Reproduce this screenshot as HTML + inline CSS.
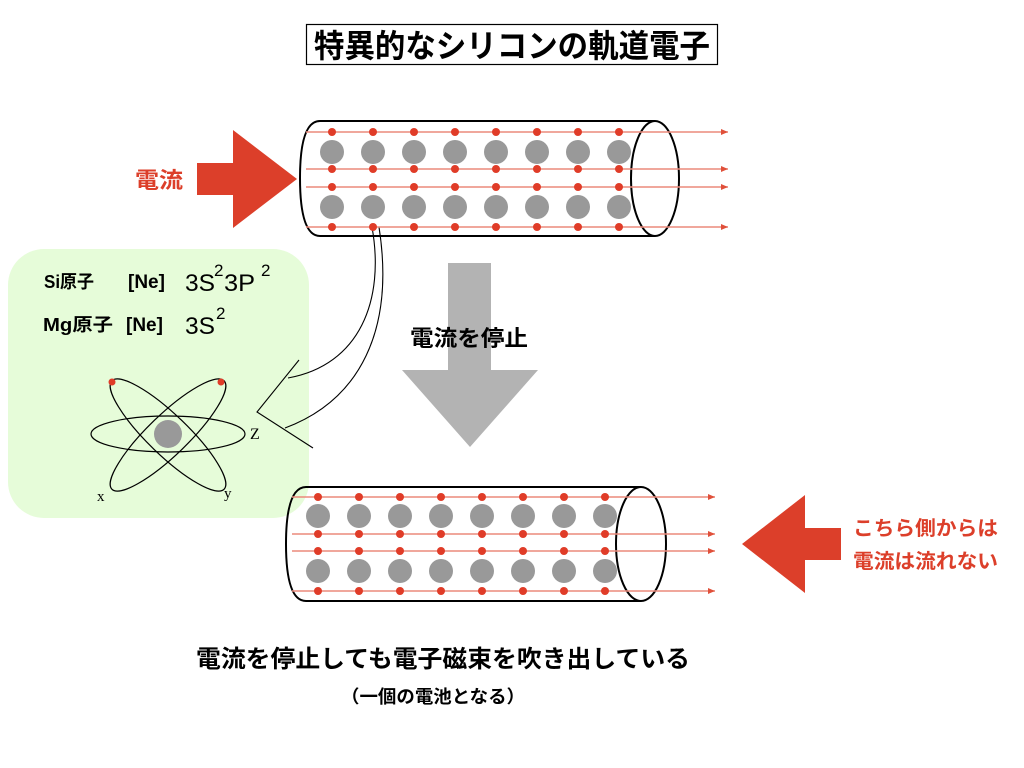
<!DOCTYPE html>
<html><head><meta charset="utf-8"><style>
html,body{margin:0;padding:0;background:#fff;}
svg{display:block;}
text{font-family:"Liberation Sans","Noto Sans CJK JP",sans-serif;}
</style></head><body>
<svg width="1024" height="768" viewBox="0 0 1024 768" xmlns="http://www.w3.org/2000/svg">
<defs>
<marker id="ah" markerWidth="8" markerHeight="8" refX="7" refY="3" orient="auto" markerUnits="userSpaceOnUse">
<path d="M0,0 L7,3 L0,6 Z" fill="#e0503a"/></marker>
<g id="dr1"><circle cx="332" cy="0" r="4"/><circle cx="373" cy="0" r="4"/><circle cx="414" cy="0" r="4"/><circle cx="455" cy="0" r="4"/><circle cx="496" cy="0" r="4"/><circle cx="537" cy="0" r="4"/><circle cx="578" cy="0" r="4"/><circle cx="619" cy="0" r="4"/></g>
</defs>
<!-- title -->
<rect x="306.5" y="24.5" width="411" height="40" fill="#fff" stroke="#000" stroke-width="1.2"/>
<text x="512" y="57" font-size="32" font-weight="bold" text-anchor="middle" textLength="396" lengthAdjust="spacingAndGlyphs">特異的なシリコンの軌道電子</text>

<!-- green box -->
<rect x="8" y="249" width="301" height="269" rx="36" fill="#e6fcd9"/>
<text x="44" y="288" font-size="18" font-weight="bold" textLength="50" lengthAdjust="spacingAndGlyphs">Si原子</text>
<text x="128" y="288" font-size="19" font-weight="bold">[Ne]</text>
<text x="185" y="291" font-size="24" textLength="30" lengthAdjust="spacingAndGlyphs">3S</text>
<text x="214" y="276" font-size="17">2</text>
<text x="224" y="291" font-size="24" textLength="31" lengthAdjust="spacingAndGlyphs">3P</text>
<text x="261" y="276" font-size="17">2</text>
<text x="43" y="331" font-size="18" font-weight="bold" textLength="70" lengthAdjust="spacingAndGlyphs">Mg原子</text>
<text x="126" y="331" font-size="19" font-weight="bold">[Ne]</text>
<text x="185" y="334" font-size="24" textLength="30" lengthAdjust="spacingAndGlyphs">3S</text>
<text x="216" y="319" font-size="17">2</text>

<!-- atom -->
<g fill="none" stroke="#000" stroke-width="1.2">
<ellipse cx="168" cy="434" rx="77" ry="18"/>
<ellipse cx="168" cy="435" rx="78" ry="20" transform="rotate(44 168 435)"/>
<ellipse cx="168" cy="435" rx="78" ry="20" transform="rotate(-44 168 435)"/>
</g>
<circle cx="168" cy="434" r="14" fill="#999"/>
<circle cx="112" cy="382" r="3.5" fill="#e03c28"/>
<circle cx="221" cy="382" r="3.5" fill="#e03c28"/>
<text x="97" y="501" font-size="15" style="font-family:'Liberation Serif',serif">x</text>
<text x="224" y="498" font-size="15" style="font-family:'Liberation Serif',serif">y</text>
<text x="250" y="439" font-size="16" style="font-family:'Liberation Serif',serif">Z</text>

<!-- connector -->
<g fill="none" stroke="#000" stroke-width="1.1">
<path d="M372,227 C385,300 360,365 288,378"/>
<path d="M379,227 C395,330 360,400 285,428"/>
<path d="M299,360 L257,412 L313,448"/>
</g>

<!-- red arrow left -->
<polygon points="197,163 233,163 233,130 297,179 233,228 233,195 197,195" fill="#dc3f2a"/>
<text x="135" y="188" font-size="22" font-weight="bold" fill="#dc3f2a" textLength="48" lengthAdjust="spacingAndGlyphs">電流</text>

<!-- top cylinder -->
<path d="M655,121 L320,121 Q300,121 300,178 Q300,236 320,236 L655,236" fill="none" stroke="#000" stroke-width="2"/>
<ellipse cx="655" cy="178.5" rx="24" ry="57.5" fill="none" stroke="#000" stroke-width="2"/>
<g stroke="#ec8a7c" stroke-width="1.5" marker-end="url(#ah)">
<line x1="306" y1="132" x2="728" y2="132"/>
<line x1="306" y1="169" x2="728" y2="169"/>
<line x1="306" y1="187" x2="728" y2="187"/>
<line x1="306" y1="227" x2="728" y2="227"/>
</g>
<g fill="#999">
<circle cx="332" cy="152" r="12"/><circle cx="373" cy="152" r="12"/><circle cx="414" cy="152" r="12"/><circle cx="455" cy="152" r="12"/><circle cx="496" cy="152" r="12"/><circle cx="537" cy="152" r="12"/><circle cx="578" cy="152" r="12"/><circle cx="619" cy="152" r="12"/>
<circle cx="332" cy="207" r="12"/><circle cx="373" cy="207" r="12"/><circle cx="414" cy="207" r="12"/><circle cx="455" cy="207" r="12"/><circle cx="496" cy="207" r="12"/><circle cx="537" cy="207" r="12"/><circle cx="578" cy="207" r="12"/><circle cx="619" cy="207" r="12"/>
</g>
<g fill="#e03c28">
<use href="#dr1" y="132"/><use href="#dr1" y="169"/><use href="#dr1" y="187"/><use href="#dr1" y="227"/>
</g>

<!-- gray arrow -->
<polygon points="448,263 491,263 491,370 538,370 470,447 402,370 448,370" fill="#b3b3b3"/>
<text x="469" y="346" font-size="22" font-weight="bold" text-anchor="middle" textLength="118" lengthAdjust="spacingAndGlyphs">電流を停止</text>

<!-- bottom cylinder -->
<path d="M641,487 L306,487 Q286,487 286,544 Q286,601 306,601 L641,601" fill="none" stroke="#000" stroke-width="2"/>
<ellipse cx="641" cy="544" rx="25" ry="57" fill="none" stroke="#000" stroke-width="2"/>
<g stroke="#ec8a7c" stroke-width="1.5" marker-end="url(#ah)">
<line x1="292" y1="497" x2="715" y2="497"/>
<line x1="292" y1="534" x2="715" y2="534"/>
<line x1="292" y1="551" x2="715" y2="551"/>
<line x1="292" y1="591" x2="715" y2="591"/>
</g>
<g fill="#999">
<circle cx="318" cy="516" r="12"/><circle cx="359" cy="516" r="12"/><circle cx="400" cy="516" r="12"/><circle cx="441" cy="516" r="12"/><circle cx="482" cy="516" r="12"/><circle cx="523" cy="516" r="12"/><circle cx="564" cy="516" r="12"/><circle cx="605" cy="516" r="12"/>
<circle cx="318" cy="571" r="12"/><circle cx="359" cy="571" r="12"/><circle cx="400" cy="571" r="12"/><circle cx="441" cy="571" r="12"/><circle cx="482" cy="571" r="12"/><circle cx="523" cy="571" r="12"/><circle cx="564" cy="571" r="12"/><circle cx="605" cy="571" r="12"/>
</g>
<g fill="#e03c28" transform="translate(-14,0)">
<use href="#dr1" y="497"/><use href="#dr1" y="534"/><use href="#dr1" y="551"/><use href="#dr1" y="591"/>
</g>

<!-- right red arrow -->
<polygon points="841,528 805,528 805,495 742,544 805,593 805,560 841,560" fill="#dc3f2a"/>
<text x="853" y="535" font-size="20" font-weight="bold" fill="#dc3f2a" textLength="145" lengthAdjust="spacingAndGlyphs">こちら側からは</text>
<text x="853" y="568" font-size="20" font-weight="bold" fill="#dc3f2a" textLength="145" lengthAdjust="spacingAndGlyphs">電流は流れない</text>

<!-- bottom text -->
<text x="196" y="667" font-size="24" font-weight="bold" textLength="494" lengthAdjust="spacingAndGlyphs">電流を停止しても電子磁束を吹き出している</text>
<text x="341" y="703" font-size="18" font-weight="bold" textLength="184" lengthAdjust="spacingAndGlyphs">（一個の電池となる）</text>
</svg>
</body></html>
